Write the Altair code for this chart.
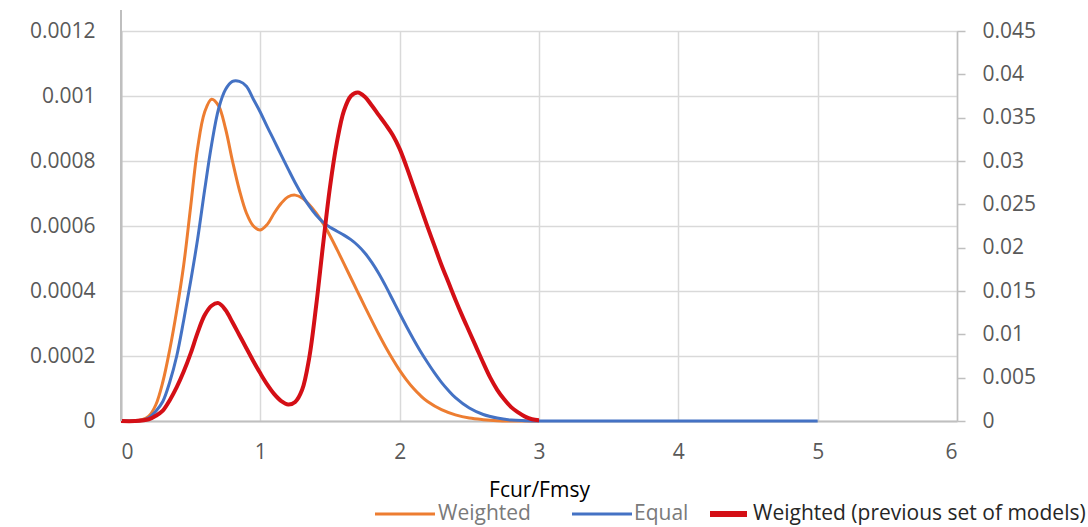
import altair as alt
import pandas as pd

# ---- data ----
x_weighted = [0, 0.1, 0.15, 0.2, 0.25, 0.3, 0.35, 0.4, 0.45, 0.5, 0.55, 0.6, 0.65, 0.7, 0.75,
              0.8, 0.85, 0.9, 0.95, 1.0, 1.05, 1.1, 1.15, 1.2, 1.25, 1.3, 1.35, 1.4, 1.45,
              1.5, 1.55, 1.6, 1.65, 1.7, 1.75, 1.8, 1.85, 1.9, 1.95, 2.0, 2.05, 2.1, 2.15,
              2.2, 2.3, 2.4, 2.5, 2.6, 2.7, 2.8, 3.0]
y_weighted = [0, 0, 0.000004, 0.000015, 0.00005, 0.00012, 0.00022, 0.00034, 0.00048, 0.00066,
              0.00084, 0.00095, 0.00099, 0.00097, 0.00090, 0.00080, 0.00071, 0.00064, 0.000600,
              0.000588, 0.000605, 0.000640, 0.000670, 0.000690, 0.000695, 0.000686, 0.000666,
              0.000640, 0.000608, 0.000570, 0.000528, 0.000484, 0.000440, 0.000396, 0.000352,
              0.000309, 0.000267, 0.000227, 0.000190, 0.000156, 0.000126, 0.000100, 0.000078,
              0.000060, 0.000035, 0.000019, 0.000009, 0.000004, 0.000001, 0, 0]

x_equal = [0, 0.1, 0.15, 0.2, 0.25, 0.3, 0.35, 0.4, 0.45, 0.5, 0.55, 0.6, 0.65, 0.7, 0.75,
           0.8, 0.85, 0.9, 0.95, 1.0, 1.05, 1.1, 1.15, 1.2, 1.25, 1.3, 1.35, 1.4, 1.45,
           1.5, 1.55, 1.6, 1.65, 1.7, 1.75, 1.8, 1.85, 1.9, 1.95, 2.0, 2.05, 2.1, 2.15,
           2.2, 2.25, 2.3, 2.35, 2.4, 2.5, 2.6, 2.7, 2.8, 2.9, 3.0, 4.0, 5.0]
y_equal = [0, 0, 0.000002, 0.00001, 0.00003, 0.00006, 0.00012, 0.00020, 0.00031, 0.00043,
           0.00056, 0.00071, 0.00085, 0.00096, 0.00102, 0.001045, 0.001045, 0.00103, 0.00099,
           0.000950, 0.000905, 0.000862, 0.000818, 0.000775, 0.000733, 0.000695, 0.000662,
           0.000634, 0.000612, 0.000596, 0.000584, 0.000572, 0.000558, 0.000540, 0.000517,
           0.000488, 0.000454, 0.000415, 0.000373, 0.000331, 0.000290, 0.000251, 0.000214,
           0.000180, 0.000148, 0.000119, 0.000094, 0.000072, 0.000040, 0.000020, 0.000009,
           0.000003, 0.000001, 0, 0, 0]

x_prev = [0, 0.1, 0.2, 0.25, 0.3, 0.35, 0.4, 0.45, 0.5, 0.55, 0.6, 0.65, 0.7, 0.75, 0.8,
          0.85, 0.9, 0.95, 1.0, 1.05, 1.1, 1.15, 1.2, 1.25, 1.3, 1.35, 1.4, 1.45, 1.5, 1.55,
          1.6, 1.65, 1.7, 1.75, 1.8, 1.85, 1.9, 1.95, 2.0, 2.05, 2.1, 2.15, 2.2, 2.25, 2.3,
          2.35, 2.4, 2.45, 2.5, 2.55, 2.6, 2.65, 2.7, 2.75, 2.8, 2.85, 2.9, 2.95, 3.0]
y_prev = [0, 0, 0.0002, 0.0006, 0.0012, 0.0024, 0.0039, 0.0057, 0.0078, 0.0102, 0.0122,
          0.0133, 0.0136, 0.0128, 0.0114, 0.0099, 0.0084, 0.0069, 0.0055, 0.0042, 0.0031,
          0.0023, 0.0019, 0.0022, 0.0036, 0.0072, 0.0132, 0.0203, 0.0270, 0.0322, 0.0358,
          0.0375, 0.0379, 0.0374, 0.0364, 0.0353, 0.0342, 0.0330, 0.0314, 0.0293, 0.0270,
          0.0247, 0.0224, 0.0202, 0.0180, 0.0160, 0.0140, 0.0121, 0.0103, 0.0085, 0.0067,
          0.0050, 0.0036, 0.0025, 0.0016, 0.0010, 0.0005, 0.0002, 0.0001]

left_ticks = [0, 0.0002, 0.0004, 0.0006, 0.0008, 0.001, 0.0012]
right_ticks = [0, 0.005, 0.01, 0.015, 0.02, 0.025, 0.03, 0.035, 0.04, 0.045]
x_ticks = [0, 1, 2, 3, 4, 5, 6]

legend_labels = ["Weighted", "Equal", "Weighted (previous set of models)"]
colors = ["#ED7D31", "#4472C4", "#D40F16"]

FONT = "Open Sans"
FS = 21
W, H = 836, 390

df_w = pd.DataFrame({"x": x_weighted, "y": y_weighted})
df_e = pd.DataFrame({"x": x_equal, "y": y_equal})
df_p = pd.DataFrame({"x": x_prev, "y": y_prev})

xscale = alt.Scale(domain=[0, 6], nice=False, zero=False)
xaxis = alt.Axis(values=x_ticks, format="d", title="Fcur/Fmsy", labelFontSize=FS,
                 labelColor="#595959", labelFont=FONT, labelPadding=20, ticks=False,
                 domainColor="#bfbfbf", domainWidth=2, gridColor="#d9d9d9", gridWidth=1.5,
                 titleFont=FONT, titleFontSize=FS, titleColor="#000000",
                 titleFontWeight="normal", titlePadding=17)
yleft_scale = alt.Scale(domain=[0, 0.0012], nice=False)
yleft_axis = alt.Axis(values=left_ticks, format=".4~f", title=None, labelFontSize=FS,
                      labelColor="#595959", labelFont=FONT, labelPadding=26, ticks=False,
                      domainColor="#bfbfbf", domainWidth=2, gridColor="#d9d9d9",
                      gridWidth=1.5, orient="left")
yright_scale = alt.Scale(domain=[0, 0.045], nice=False)
yright_axis = alt.Axis(values=right_ticks, format=".3~f", title=None, labelFontSize=FS,
                       labelColor="#595959", labelFont=FONT, labelPadding=17, ticks=True,
                       tickSize=8, tickColor="#bfbfbf", tickWidth=1.5,
                       domainColor="#bfbfbf", domainWidth=1.5, grid=False, orient="right")

weighted = alt.Chart(df_w).mark_line(color=colors[0], strokeWidth=3, interpolate="catmull-rom").encode(
    x=alt.X("x:Q", scale=xscale, axis=xaxis),
    y=alt.Y("y:Q", scale=yleft_scale, axis=yleft_axis),
)
equal = alt.Chart(df_e).mark_line(color=colors[1], strokeWidth=3, interpolate="catmull-rom").encode(
    x=alt.X("x:Q", scale=xscale),
    y=alt.Y("y:Q", scale=yleft_scale),
)
left = alt.layer(weighted, equal)

prev = alt.Chart(df_p).mark_line(color=colors[2], strokeWidth=4, interpolate="catmull-rom").encode(
    x=alt.X("x:Q", scale=xscale),
    y=alt.Y("y:Q", scale=yright_scale, axis=yright_axis),
)

one = alt.Data(values=[{"a": 1}])
# extended left axis line (decoration, as in the reference)
axis_ext = alt.Chart(one).mark_rule(color="#bfbfbf", strokeWidth=2).encode(
    x=alt.value(0), y=alt.value(-21), y2=alt.value(H))

# manual legend
leg_y = 483
leg_specs = [
    (254, 314, 317, 3, "#7a7a7a"),
    (451, 511, 513, 3, "#7a7a7a"),
    (589, 626, 632, 6, "#262626"),
]
leg_layers = []
for (x0, x1, tx, sw, tc), lab, col in zip(leg_specs, legend_labels, colors):
    leg_layers.append(alt.Chart(one).mark_rule(color=col, strokeWidth=sw).encode(
        x=alt.value(x0), x2=alt.value(x1), y=alt.value(leg_y)))
    leg_layers.append(alt.Chart(one).mark_text(
        text=lab, align="left", baseline="middle", font=FONT, fontSize=FS, color=tc).encode(
        x=alt.value(tx), y=alt.value(leg_y)))

chart = alt.layer(left, prev, axis_ext, *leg_layers).resolve_scale(y="independent").properties(
    width=W, height=H,
    autosize=alt.AutoSizeParams(type="none"),
    padding={"left": 121, "top": 31, "right": 131, "bottom": 106},
).configure_view(stroke=None).configure(background="white")

chart.save("out.html", embed_options={"renderer": "svg", "actions": False})
